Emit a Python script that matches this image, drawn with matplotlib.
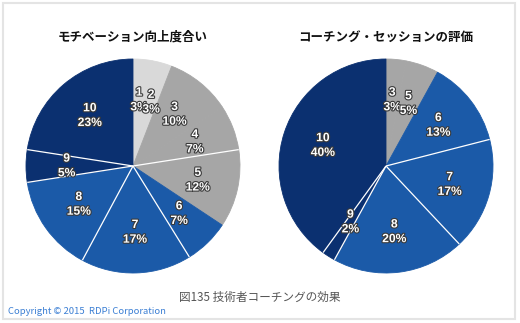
import numpy as np
import matplotlib.pyplot as plt
import matplotlib.patheffects as pe
from matplotlib.patches import Rectangle

plt.rcParams['font.family'] = ['Noto Sans CJK JP', 'DejaVu Sans']

# survey results (percent of respondents per score)
motivation_scores = ['1', '2', '3', '4', '5', '6', '7', '8', '9', '10']
motivation_pct = [3, 3, 10, 7, 12, 7, 17, 15, 5, 23]

session_scores = ['3', '5', '6', '7', '8', '9', '10']
session_pct = [3, 5, 13, 17, 20, 2, 40]

titles = ['モチベーション向上度合い', 'コーチング・セッションの評価']
caption = '図135 技術者コーチングの効果'
copyright_text = 'Copyright © 2015  RDPi Corporation'

LIGHT = '#d9d9d9'
GRAY = '#a6a6a6'
BLUE = '#1b5aa8'
NAVY = '#0b3070'

score_colors = {'1': LIGHT, '2': LIGHT, '3': GRAY, '4': GRAY, '5': GRAY,
                '6': BLUE, '7': BLUE, '8': BLUE, '9': NAVY, '10': NAVY}

# scores whose leading edge gets a white separator line
left_split = ['5', '7', '8', '9', '10']
right_split = ['7', '8', '9', '10']

fig = plt.figure(figsize=(5.2, 3.23), dpi=100)
fig.patch.set_facecolor('white')

# thin light frame around the figure
fig.add_artist(Rectangle((3 / 520, 4 / 323), 512 / 520, 316 / 323,
                         transform=fig.transFigure, fill=False,
                         edgecolor='#e4e4e4', linewidth=1.5))

label_fx = [pe.withStroke(linewidth=1.6, foreground='#3a3a3a')]


def draw_pie(left, scores, pct, title, split):
    ax = fig.add_axes([left, 50 / 323, 214 / 520, 214 / 323])
    colors = [score_colors[s] for s in scores]
    labels = [f'{s}\n{p}%' for s, p in zip(scores, pct)]
    wedges, texts = ax.pie(pct, colors=colors, startangle=90, counterclock=False,
                           labels=labels, labeldistance=0.62,
                           wedgeprops=dict(linewidth=0.6),
                           textprops=dict(color='white', fontsize=8.7,
                                          fontweight='bold',
                                          family=['Liberation Sans', 'DejaVu Sans'],
                                          linespacing=1.3))
    for w in wedges:
        w.set_edgecolor(w.get_facecolor())
    for s, w in zip(scores, wedges):
        if s in split:
            # clockwise pie: the wedge starts at theta2
            a = np.deg2rad(w.theta2)
            ax.plot([0, np.cos(a)], [0, np.sin(a)], color='white', lw=0.9,
                    solid_capstyle='butt', zorder=3)
    for t in texts:
        t.set_horizontalalignment('center')
        t.set_verticalalignment('center')
        t.set_path_effects(label_fx)
        t.set_zorder(4)
    ax.set_xlim(-1, 1)
    ax.set_ylim(-1, 1)
    ax.set_aspect('equal')
    ax.set_title(title, fontsize=9, fontweight='bold', color='#111111', pad=13)
    return ax


draw_pie(26 / 520, motivation_scores, motivation_pct, titles[0], left_split)
draw_pie(279 / 520, session_scores, session_pct, titles[1], right_split)

fig.text(0.5, 1 - 297 / 323, caption, ha='center', va='center',
         fontsize=8.4, color='#555555')
fig.text(8 / 520, 1 - 312 / 323, copyright_text, ha='left', va='center',
         fontsize=6.8, color='#3b7fd4')

fig.savefig('out.png', dpi=100, facecolor='white')
